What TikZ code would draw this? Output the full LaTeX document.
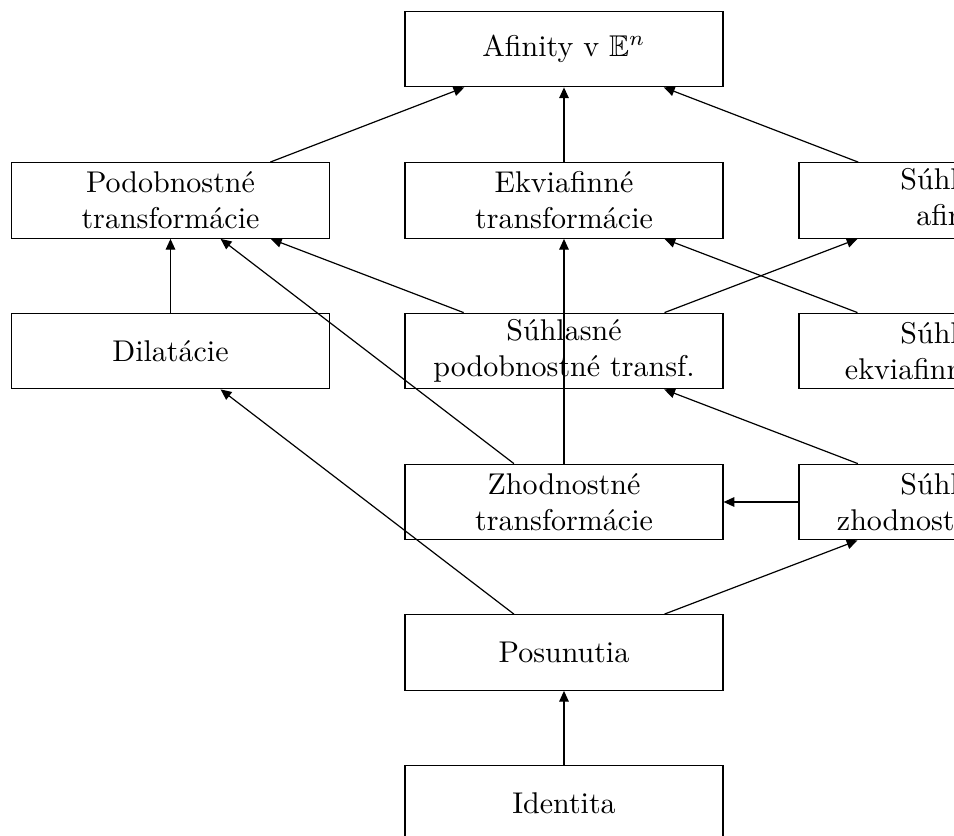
\documentclass[tikz,border=0pt]{standalone}
\usepackage{amssymb}
\usetikzlibrary{arrows.meta}
\begin{document}
\begin{tikzpicture}[x=0.33333pt,y=-0.33333pt,
  box/.style={draw,line width=0.4pt,minimum width=106pt,minimum height=25.2pt,align=center,inner sep=0pt,font=\normalsize},
  arr/.style={-{Triangle[length=3.6pt,width=3.2pt]},line width=0.4pt}]
\path[use as bounding box] (0,0) rectangle (954,836);
\clip (0,0) rectangle (954,836);
\node[box] (aff) at (564,49) {Afinity v $\mathbb{E}^n$};
\node[box] (pod) at (170.5,200.5) {Podobnostné\\transformácie};
\node[box] (ekv) at (564,200.5) {Ekviafinné\\transformácie};
\node[box] (saf) at (958,200.5) {Súhlasné\\afinity};
\node[box] (dil) at (170.5,351) {Dilatácie};
\node[box] (spod) at (564,351) {Súhlasné\\podobnostné transf.};
\node[box] (sekv) at (958,351) {Súhlasné\\ekviafinné transf.};
\node[box] (zho) at (564,502) {Zhodnostné\\transformácie};
\node[box] (szho) at (958,502) {Súhlasné\\zhodnostné transf.};
\node[box] (pos) at (564,652.5) {Posunutia};
\node[box] (id) at (564,803.5) {Identita};
\draw[arr] (pod) -- (aff);
\draw[arr] (ekv) -- (aff);
\draw[arr] (saf) -- (aff);
\draw[arr] (dil) -- (pod);
\draw[arr] (spod) -- (pod);
\draw[arr] (spod) -- (saf);
\draw[arr] (sekv) -- (ekv);
\draw[arr] (zho) -- (pod);
\draw[arr] (zho) -- (ekv);
\draw[arr] (szho) -- (spod);
\draw[arr] (szho) -- (zho);
\draw[arr] (pos) -- (dil);
\draw[arr] (pos) -- (szho);
\draw[arr] (id) -- (pos);
\end{tikzpicture}
\end{document}
